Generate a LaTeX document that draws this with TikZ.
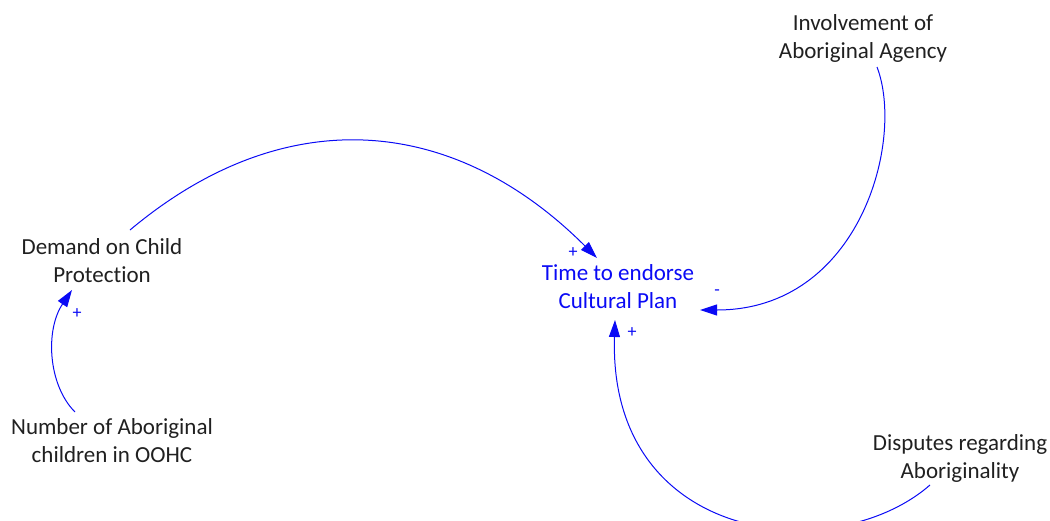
\documentclass[tikz,border=0pt]{standalone}
\usepackage{fontspec}
\setmainfont[RawFeature={-liga;-clig;-dlig;-calt;-hlig}]{Carlito}
\usetikzlibrary{arrows.meta}
\definecolor{ink}{HTML}{202020}
\definecolor{linkblue}{RGB}{10,10,245}
\begin{document}
\begin{tikzpicture}[x=1pt,y=-1pt,
  var/.style={align=center, font=\fontsize{23}{28}\selectfont, text=ink, inner sep=0pt},
  link/.style={draw=linkblue, line width=1pt, -{Triangle[length=17pt,width=11pt]}},
  pol/.style={text=linkblue, font=\fontsize{18}{18}\selectfont, inner sep=0pt}]
\useasboundingbox (0,0) rectangle (1050,520);
\clip (0,0) rectangle (1050,520);

% variables
\node[var] (inv) at (863,38) {Involvement of\\Aboriginal Agency};
\node[var] (dem) at (102,261) {Demand on Child\\Protection};
\node[var, text=linkblue] (time) at (618,287) {Time to endorse\\Cultural Plan};
\node[var] (num) at (112,441) {Number of Aboriginal\\children in OOHC};
\node[var] (dis) at (960,458) {Disputes regarding\\Aboriginality};

% causal links
\draw[link] ([shift={(28,-31)}]dem.center)
  .. controls (285,100) and (454,115) .. ([shift={(-21,-29)}]time.center);
\draw[link] ([shift={(14,29)}]inv.center)
  .. controls (905,140) and (860,310) .. ([shift={(82,23)}]time.center);
\draw[link] ([shift={(-30,27)}]dis.center)
  .. controls (835,568) and (608,545) .. ([shift={(-3,33)}]time.center);
\draw[link] ([shift={(-37,-29)}]num.center)
  .. controls (48,385) and (45,330) .. ([shift={(-30,29)}]dem.center);

% polarities
\node[pol] (p1) at (573,253) {+};
\node[pol] (p2) at (717,293) {-};
\node[pol] (p3) at (632,333) {+};
\node[pol] (p4) at (77,314) {+};
\end{tikzpicture}
\end{document}
